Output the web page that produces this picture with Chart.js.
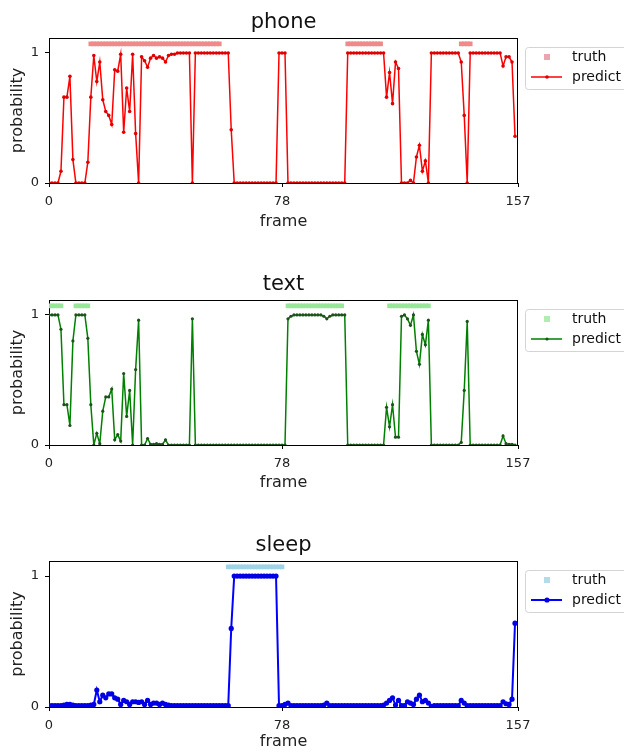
<!DOCTYPE html>
<html>
<head>
<meta charset="utf-8">
<script src="https://cdn.jsdelivr.net/npm/chart.js@4.4.1/dist/chart.umd.min.js"></script>
<style>
  html, body { margin: 0; padding: 0; background: #fff; }
  #wrap { position: relative; width: 624px; height: 754px; overflow: hidden; }
  canvas { position: absolute; left: 0; }
</style>
</head>
<body>
<div id="wrap">
  <canvas id="phoneChart" width="624" height="236" style="top:0px"></canvas>
  <canvas id="textChart" width="624" height="236" style="top:262px"></canvas>
  <canvas id="sleepChart" width="624" height="231" style="top:523px"></canvas>
</div>
<script>
// x axis: frames 0..156, axis runs to 157
const xTicks = [0, 78, 157];
const yTicks = [0, 1];
const truthLevel = 1.07;

const phonePredict = [
  0, 0, 0, 0, 0.09, 0.66, 0.66, 0.82, 0.18, 0,
  0, 0, 0, 0.16, 0.66, 0.98, 0.78, 0.93, 0.64, 0.55,
  0.52, 0.45, 0.87, 0.86, 0.99, 0.39, 0.73, 0.55, 0.99, 0.38,
  0, 0.97, 0.94, 0.89, 0.96, 0.98, 0.96, 0.97, 0.96, 0.93,
  0.98, 0.99, 0.99, 1, 1, 1, 1, 1, 0, 1,
  1, 1, 1, 1, 1, 1, 1, 1, 1, 1,
  1, 0.41, 0, 0, 0, 0, 0, 0, 0, 0,
  0, 0, 0, 0, 0, 0, 0, 1, 1, 1,
  0, 0, 0, 0, 0, 0, 0, 0, 0, 0,
  0, 0, 0, 0, 0, 0, 0, 0, 0, 0,
  1, 1, 1, 1, 1, 1, 1, 1, 1, 1,
  1, 1, 1, 0.66, 0.85, 0.61, 0.93, 0.88, 0, 0,
  0, 0.02, 0, 0.2, 0.29, 0.09, 0.17, 0, 1, 1,
  1, 1, 1, 1, 1, 1, 1, 1, 0.93, 0.52,
  0, 1, 1, 1, 1, 1, 1, 1, 1, 1,
  1, 1, 0.9, 0.97, 0.97, 0.93, 0.36
];

const textPredict = [
  1, 1, 1, 1, 0.89, 0.31, 0.31, 0.15, 0.8, 1,
  1, 1, 1, 0.82, 0.31, 0, 0.09, 0.01, 0.26, 0.37,
  0.37, 0.43, 0.04, 0.08, 0.03, 0.55, 0.22, 0.42, 0, 0.58,
  0.96, 0, 0, 0.05, 0.005, 0.005, 0.01, 0.005, 0.005, 0.04,
  0, 0, 0, 0, 0, 0, 0, 0, 0.97, 0,
  0, 0, 0, 0, 0, 0, 0, 0, 0, 0,
  0, 0, 0, 0, 0, 0, 0, 0, 0, 0,
  0, 0, 0, 0, 0, 0, 0, 0, 0, 0,
  0.97, 0.99, 1, 1, 1, 1, 1, 1, 1, 1,
  1, 1, 0.99, 0.97, 0.99, 1, 1, 1, 1, 1,
  0, 0, 0, 0, 0, 0, 0, 0, 0, 0,
  0, 0, 0, 0.29, 0.14, 0.31, 0.06, 0.06, 0.99, 1,
  0.97, 0.92, 1, 0.72, 0.62, 0.85, 0.77, 0.96, 0, 0,
  0, 0, 0, 0, 0, 0, 0, 0, 0.02, 0.42,
  0.95, 0, 0, 0, 0, 0, 0, 0, 0, 0,
  0, 0, 0.07, 0.01, 0.005, 0.005, 0
];

const sleepPredict = [
  0.01, 0.01, 0.01, 0.01, 0.01, 0.015, 0.02, 0.02, 0.015, 0.01,
  0.01, 0.01, 0.01, 0.01, 0.015, 0.02, 0.13, 0.04, 0.09, 0.07,
  0.1, 0.1, 0.07, 0.06, 0.02, 0.05, 0.04, 0.02, 0.04, 0.04,
  0.035, 0.04, 0.02, 0.05, 0.02, 0.03, 0.03, 0.02, 0.03, 0.02,
  0.015, 0.01, 0.01, 0.01, 0.01, 0.01, 0.01, 0.01, 0.01, 0.01,
  0.01, 0.01, 0.01, 0.01, 0.01, 0.01, 0.01, 0.01, 0.01, 0.01,
  0.01, 0.6, 1, 1, 1, 1, 1, 1, 1, 1,
  1, 1, 1, 1, 1, 1, 1, 0.01, 0.01, 0.02,
  0.03, 0.01, 0.01, 0.01, 0.01, 0.01, 0.01, 0.01, 0.01, 0.01,
  0.01, 0.01, 0.015, 0.03, 0.01, 0.01, 0.01, 0.01, 0.01, 0.01,
  0.01, 0.01, 0.01, 0.01, 0.01, 0.01, 0.01, 0.01, 0.01, 0.01,
  0.01, 0.01, 0.015, 0.03, 0.05, 0.07, 0.015, 0.05, 0.01, 0.01,
  0.04, 0.03, 0.02, 0.06, 0.09, 0.04, 0.05, 0.03, 0.005, 0.01,
  0.01, 0.01, 0.01, 0.01, 0.01, 0.01, 0.01, 0.01, 0.05, 0.03,
  0.01, 0.01, 0.01, 0.01, 0.01, 0.01, 0.01, 0.01, 0.01, 0.01,
  0.01, 0.01, 0.04, 0.025, 0.02, 0.06, 0.64
];

// ground-truth frame ranges [first, last]
const phoneTruth = [[14, 57], [100, 111], [138, 141]];
const textTruth = [[0, 4], [9, 13], [80, 98], [114, 127]];
const sleepTruth = [[60, 78]];

Chart.defaults.font.family = "'DejaVu Sans', sans-serif";

// frame box under the data, title and legend on top
const frameBox = {
    id: 'frameBox',
    beforeDatasetsDraw(chart) {
        const a = chart.chartArea, ctx = chart.ctx;
        ctx.save();
        ctx.strokeStyle = '#000';
        ctx.lineWidth = 1;
        ctx.strokeRect(Math.round(a.left) + 0.5, Math.round(a.top) + 0.5,
            Math.round(a.right - a.left) - 1, Math.round(a.bottom - a.top));
        ctx.restore();
    },
    afterDraw(chart, args, opts) {
        const a = chart.chartArea, ctx = chart.ctx;
        ctx.save();
        ctx.fillStyle = '#111';
        ctx.font = "21px 'DejaVu Sans'";
        ctx.textAlign = 'center';
        ctx.textBaseline = 'alphabetic';
        ctx.fillText(opts.title, (a.left + a.right) / 2, a.top - 10);

        const bx = a.right + 7, by = a.top + 9;
        ctx.beginPath();
        ctx.roundRect(bx + 0.5, by + 0.5, 130, 42, 3);
        ctx.fillStyle = 'rgba(255,255,255,0.8)';
        ctx.fill();
        ctx.strokeStyle = '#d4d4d4';
        ctx.lineWidth = 1;
        ctx.stroke();

        const mx = a.right + 29;
        ctx.fillStyle = opts.truthKey;
        ctx.fillRect(mx - 3, a.top + 19 - 3, 6, 6);

        ctx.strokeStyle = opts.line;
        ctx.lineWidth = opts.width;
        ctx.beginPath();
        ctx.moveTo(a.right + 13, a.top + 39);
        ctx.lineTo(a.right + 44, a.top + 39);
        ctx.stroke();
        ctx.fillStyle = opts.point;
        ctx.beginPath();
        ctx.arc(mx, a.top + 39, opts.dot, 0, Math.PI * 2);
        ctx.fill();

        ctx.fillStyle = '#111';
        ctx.font = "14px 'DejaVu Sans'";
        ctx.textAlign = 'left';
        ctx.textBaseline = 'middle';
        ctx.fillText('truth', a.right + 54, a.top + 19);
        ctx.fillText('predict', a.right + 54, a.top + 39);
        ctx.restore();
    }
};

function makeChart(canvasId, name, predict, truth, look, xh, xpad) {
    const predictPts = predict.map((v, i) => ({ x: i, y: v }));
    const truthPts = [];
    truth.forEach(([a, b]) => {
        for (let f = a; f <= b; f++) truthPts.push({ x: f, y: truthLevel });
    });
    return new Chart(document.getElementById(canvasId), {
        type: 'line',
        data: {
            datasets: [
                {
                    label: 'truth',
                    data: truthPts,
                    showLine: false,
                    pointStyle: 'rect',
                    pointRadius: 3.3,
                    pointBackgroundColor: look.truth,
                    pointBorderWidth: 0,
                    clip: 0
                },
                {
                    label: 'predict',
                    data: predictPts,
                    borderColor: look.line,
                    borderWidth: look.width,
                    pointRadius: look.dot,
                    pointBackgroundColor: look.point,
                    pointBorderWidth: 0,
                    tension: 0,
                    clip: 0
                }
            ]
        },
        options: {
            responsive: false,
            animation: false,
            devicePixelRatio: 1,
            layout: { padding: { top: 38, right: 106, left: 0, bottom: 0 } },
            plugins: {
                legend: { display: false },
                tooltip: { enabled: false },
                frameBox: Object.assign({ title: name }, look)
            },
            scales: {
                x: {
                    type: 'linear',
                    min: 0,
                    max: 157,
                    afterBuildTicks: s => { s.ticks = xTicks.map(v => ({ value: v })); },
                    afterFit: s => { s.height = xh; },
                    grid: { drawOnChartArea: false, drawTicks: true, tickLength: 4, tickColor: '#000' },
                    border: { display: true, color: '#000', width: 1 },
                    ticks: { color: '#222', font: { size: 13 }, padding: 7, maxRotation: 0, autoSkip: false },
                    title: { display: true, text: 'frame', color: '#222', font: { size: 16 }, padding: { top: 0, bottom: xpad } }
                },
                y: {
                    min: 0,
                    max: 1.115,
                    afterBuildTicks: s => { s.ticks = yTicks.map(v => ({ value: v })); },
                    afterFit: s => { s.width = 49; },
                    grid: { drawOnChartArea: false, drawTicks: true, tickLength: 4, tickColor: '#000' },
                    border: { display: true, color: '#000', width: 1 },
                    ticks: { color: '#222', font: { size: 13 }, padding: 6 },
                    title: { display: true, text: 'probability', color: '#222', font: { size: 16 }, padding: { top: 8, bottom: 0 } }
                }
            }
        },
        plugins: [frameBox]
    });
}

makeChart('phoneChart', 'phone', phonePredict, phoneTruth,
    { truth: '#f08a8a', truthKey: '#eaa6b0', line: '#ff0000', point: '#e00000', width: 1.5, dot: 1.8 }, 53, 5);
makeChart('textChart', 'text', textPredict, textTruth,
    { truth: '#98e698', truthKey: '#b4eab4', line: '#008000', point: '#1d521d', width: 1.5, dot: 1.6 }, 53, 6);
makeChart('sleepChart', 'sleep', sleepPredict, sleepTruth,
    { truth: '#9ed4e6', truthKey: '#b2dde6', line: '#0000ff', point: '#0000e6', width: 2, dot: 2.6 }, 47, 3);
</script>
</body>
</html>
